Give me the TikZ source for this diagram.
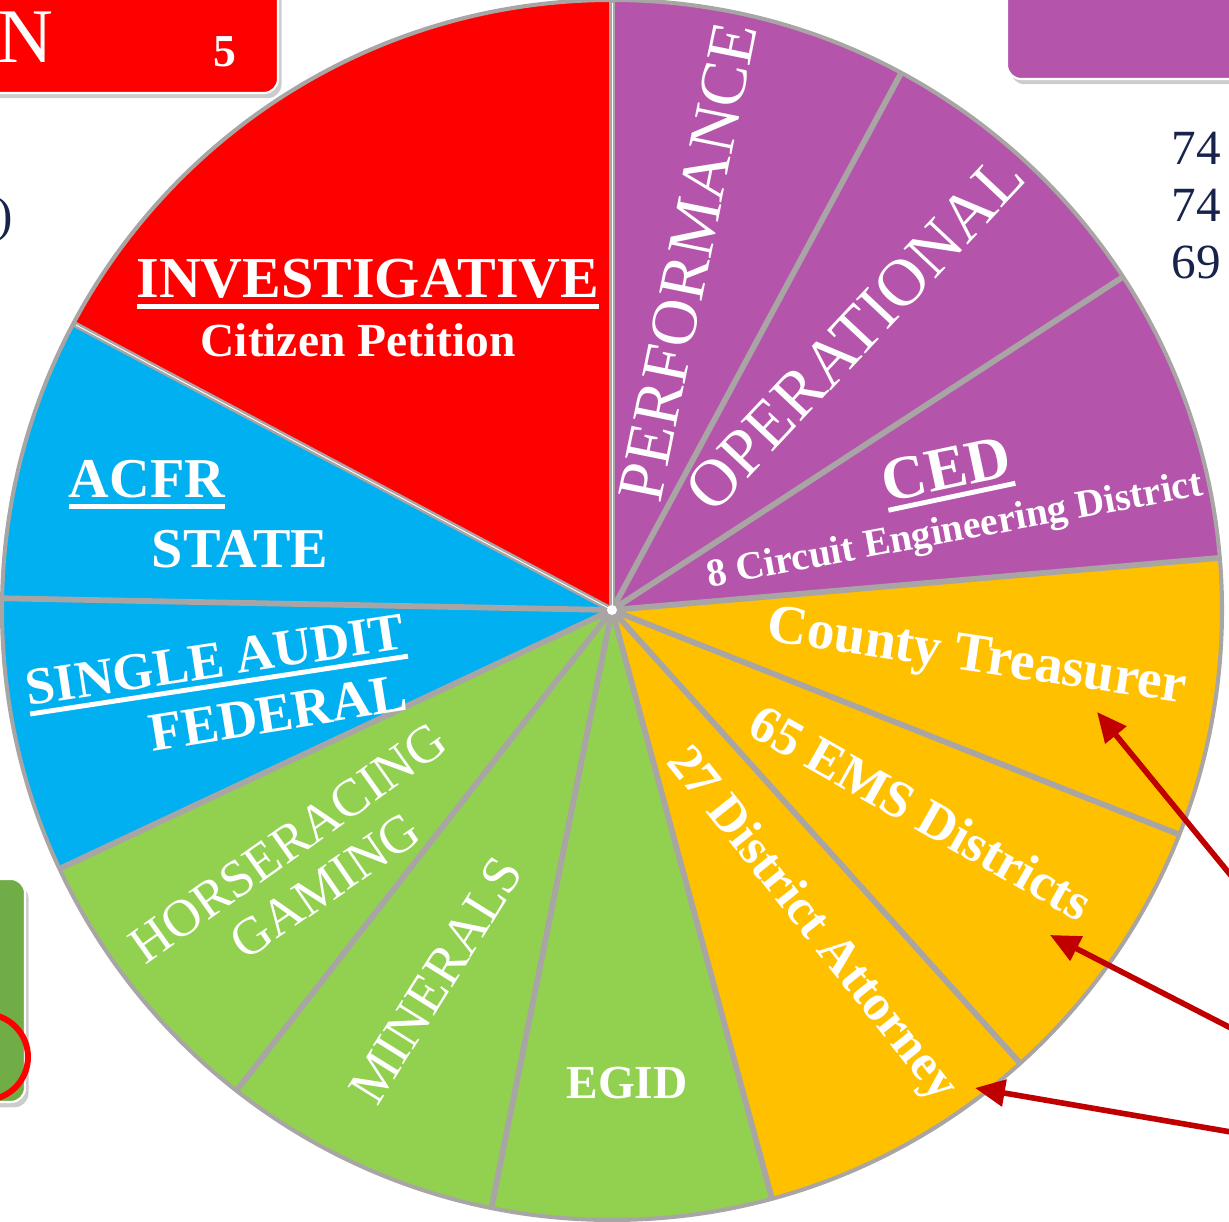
\documentclass[tikz,border=0pt]{standalone}
\usepackage{fontspec}
\setmainfont{Liberation Serif}
\usetikzlibrary{arrows.meta,shadows}

\definecolor{pie red}{HTML}{FF0000}
\definecolor{pie blue}{HTML}{00B0F0}
\definecolor{pie green}{HTML}{92D050}
\definecolor{pie yellow}{HTML}{FFC000}
\definecolor{pie purple}{HTML}{B454AB}
\definecolor{pie gray}{HTML}{A9A5A5}
\definecolor{box green}{HTML}{70AD47}
\definecolor{arrow red}{HTML}{C00000}
\definecolor{navy}{HTML}{17234A}

\def\fsz#1{\fontsize{#1}{#1}\selectfont}
\def\pieslice#1#2#3{\fill[#1] (0,0) -- (#2:610) arc[start angle=#2, end angle=#3, radius=610] -- cycle;}
\def\piesep#1{\draw[sepline] (0,0) -- (#1:610);}
\def\ulx#1{\setbox0=\hbox{#1}\vtop{\copy0\kern3pt\hrule height 2.8pt width \wd0}}

\tikzset{
	lbl/.style={text=white, inner sep=0pt},
	sepline/.style={draw=pie gray, line width=3.3pt},
	callout/.style={draw=arrow red, line width=3.2pt, -{Triangle[length=17pt,width=15pt]}},
	panel/.style={rounded corners=8pt, draw=white, line width=1.2pt, drop shadow={shadow xshift=2pt, shadow yshift=-3pt, fill=black!40}},
	num/.style={text=navy, font=\fsz{28}, inner sep=0pt}
}

\begin{document}
\begin{tikzpicture}[x=0.02cm,y=0.02cm]
	\useasboundingbox (0,0) rectangle (1229,1222);

	\draw[panel, fill=pie red] (-40,1129) rectangle (278,1262);
	\draw[panel, fill=pie purple] (1007,1143) rectangle (1270,1262);
	\draw[panel, fill=box green] (-40,120) rectangle (25,343);
	\draw[pie red, line width=3.4pt] (-15,165) circle[radius=43];

	\node[lbl, font=\fsz{44}, anchor=base east] (lastn) at (54,1159) {N};
	\node[lbl, font=\fsz{26}\bfseries] (five) at (225,1170) {5};
	\node[num, anchor=east] (numa) at (1221,1074) {74};
	\node[num, anchor=east] (numb) at (1221,1017) {74};
	\node[num, anchor=east] (numc) at (1221,960) {69};
	\node[num] (paren) at (5,1002) {)};

	\begin{scope}[shift={(612,612)}]
		\pieslice{pie red}{90}{152}
		\pieslice{pie blue}{152}{205.1}
		\pieslice{pie green}{205.1}{285.2}
		\pieslice{pie yellow}{285.2}{364.9}
		\pieslice{pie purple}{4.9}{90}
		\piesep{90}
		\piesep{152}
		\piesep{178.9}
		\piesep{205.1}
		\piesep{232}
		\piesep{258.6}
		\piesep{285.2}
		\piesep{312}
		\piesep{338.4}
		\piesep{4.9}
		\piesep{33.1}
		\piesep{61.7}
		\draw[pie gray, line width=2.3pt] (0,0) circle[radius=610];
		\draw[white, line width=0.5pt] (0,0) -- (90:607);
		\draw[white, line width=0.5pt] (0,0) -- (152:607);
		\fill[white] (0,0) circle[radius=5];
	\end{scope}

	\node[lbl, font=\fsz{33}\bfseries, anchor=base] (invest) at (368,924) {\ulx{INVESTIGATIVE}};
	\node[lbl, font=\fsz{27}\bfseries, anchor=base] (petition) at (358,865) {Citizen Petition};
	\node[lbl, font=\fsz{32}\bfseries, anchor=base] (acfr) at (147,724) {\ulx{ACFR}};
	\node[lbl, font=\fsz{32}\bfseries, anchor=base] (state) at (240,654) {STATE};
	\node[lbl, font=\fsz{30}\bfseries, rotate=8.7] (single) at (216,557) {\ulx{SINGLE AUDIT}};
	\node[lbl, font=\fsz{31}\bfseries, rotate=9.2] (federal) at (278,509) {FEDERAL};
	\node[lbl, font=\fsz{30}, rotate=35.4] (horse) at (288,379) {HORSERACING};
	\node[lbl, font=\fsz{30}, rotate=34.5] (gaming) at (325,336) {GAMING};
	\node[lbl, font=\fsz{31}, rotate=58] (minerals) at (436,242) {MINERALS};
	\node[lbl, font=\fsz{27}\bfseries] (egid) at (627,139) {EGID};
	\node[lbl, font=\fsz{29}\bfseries, rotate=-51.5] (attorney) at (811,297) {27 District Attorney};
	\node[lbl, font=\fsz{30}\bfseries, rotate=-29.5] (ems) at (921,410) {65 EMS Districts};
	\node[lbl, font=\fsz{31.5}\bfseries, rotate=-8.5, anchor=base] (treasurer) at (975,550) {County Treasurer};
	\node[lbl, font=\fsz{35}\bfseries, rotate=12] (ced) at (947,748) {\ulx{CED}};
	\node[lbl, font=\fsz{22.5}\bfseries, rotate=10.5] (circuit) at (955,690) {8 Circuit Engineering District};
	\node[lbl, font=\fsz{38}, rotate=46.8] (operational) at (855,889) {OPERATIONAL};
	\node[lbl, font=\fsz{37.5}, rotate=78.5] (performance) at (688,960) {PERFORMANCE};

	\coordinate (srca) at (1260,311);
	\coordinate (tipa) at (1097,510);
	\coordinate (srcb) at (1260,179);
	\coordinate (tipb) at (1050,287);
	\coordinate (srcc) at (1260,85);
	\coordinate (tipc) at (975,134);
	\draw[callout] (srca) -- (tipa);
	\draw[callout] (srcb) -- (tipb);
	\draw[callout] (srcc) -- (tipc);
\end{tikzpicture}
\end{document}
